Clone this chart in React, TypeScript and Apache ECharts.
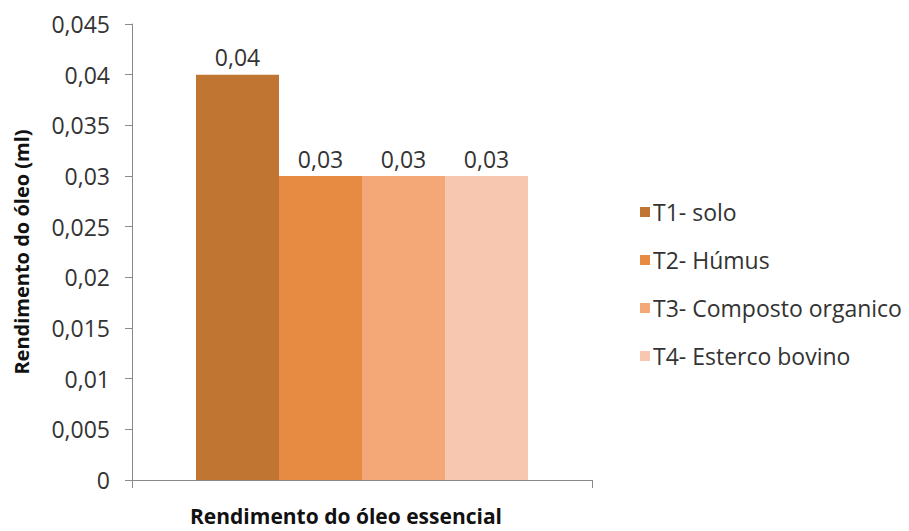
import React, { useEffect, useRef } from "react";
import * as echarts from "echarts";

const categories = ["Rendimento do óleo essencial"];
const seriesNames = ["T1- solo", "T2- Húmus", "T3- Composto organico", "T4- Esterco bovino"];
const seriesValues = [0.04, 0.03, 0.03, 0.03];
const seriesColors = ["#C17533", "#E88B42", "#F5A877", "#F7C8AF"];
const yTicks = { min: 0, max: 0.045, interval: 0.005 };

const fmt = (v: number) => String(+Number(v).toFixed(3)).replace(".", ",");
const FONT = "Open Sans";

export default function App() {
  const ref = useRef<HTMLDivElement>(null);
  useEffect(() => {
    if (!ref.current) return;
    const chart = echarts.init(ref.current, undefined, { renderer: "svg" });
    chart.setOption({
      animation: false,
      backgroundColor: "#ffffff",
      textStyle: { fontFamily: FONT },
      grid: { left: 132, right: 317, top: 24, bottom: 51, containLabel: false, outerBoundsMode: "none" },
      legend: {
        orient: "vertical",
        left: 635,
        top: 195,
        itemWidth: 10,
        itemHeight: 10,
        itemGap: 24,
        icon: "rect",
        textStyle: { fontFamily: FONT, fontSize: 23, lineHeight: 24, color: "#333333", padding: [0, 0, 0, -2] },
        data: seriesNames,
      },
      xAxis: {
        type: "category",
        data: categories,
        name: categories[0],
        nameLocation: "middle",
        nameGap: 25,
        nameTextStyle: { fontFamily: FONT, fontWeight: "bold", fontSize: 21, color: "#111111", padding: [0, 32, 0, 0] },
        axisLine: { lineStyle: { color: "#8a8a8a", width: 1 } },
        axisTick: { show: true, length: 8, lineStyle: { color: "#8a8a8a" } },
        axisLabel: { show: false },
      },
      yAxis: {
        type: "value",
        min: yTicks.min,
        max: yTicks.max,
        interval: yTicks.interval,
        name: "Rendimento do óleo (ml)",
        nameLocation: "middle",
        nameGap: 101,
        nameTextStyle: { fontFamily: FONT, fontWeight: "bold", fontSize: 20, color: "#111111" },
        axisLine: { show: true, lineStyle: { color: "#8a8a8a", width: 1 } },
        axisTick: { show: true, length: 7, lineStyle: { color: "#8a8a8a" } },
        splitLine: { show: false },
        axisLabel: {
          fontFamily: FONT,
          fontSize: 23,
          color: "#333333",
          margin: 22,
          formatter: (v: number) => fmt(v),
        },
      },
      series: seriesNames.map((name, i) => ({
        name,
        type: "bar",
        barWidth: 83,
        barGap: "0%",
        itemStyle: { color: seriesColors[i] },
        label: {
          show: true,
          position: "top",
          distance: 6,
          fontFamily: FONT,
          fontSize: 23,
          color: "#333333",
          formatter: (p: any) => fmt(p.value),
        },
        data: [seriesValues[i]],
      })),
    });
    return () => chart.dispose();
  }, []);
  return <div ref={ref} style={{ width: 909, height: 531, position: "absolute", left: 0, top: 0 }} />;
}
